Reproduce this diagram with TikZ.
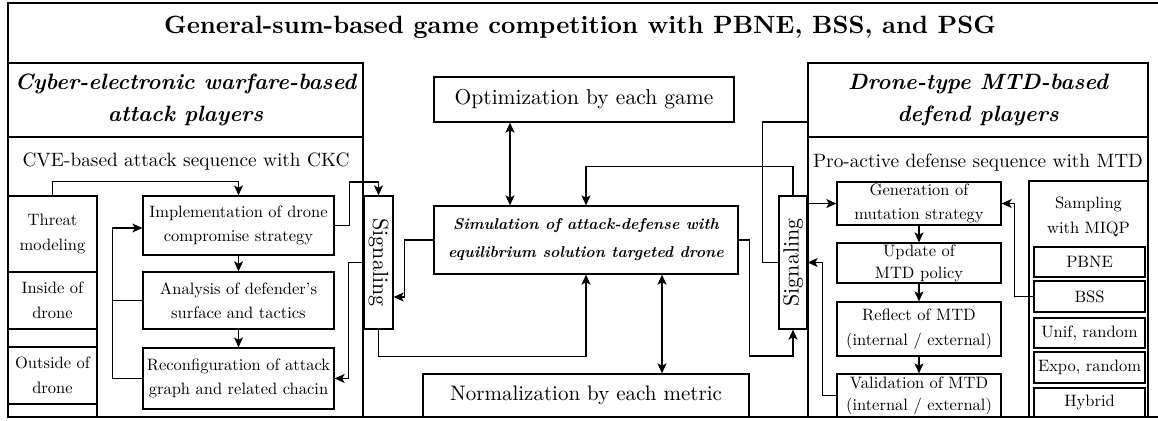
\documentclass[tikz,border=0pt]{standalone}
\usepackage{fontspec}
\setmainfont{lmroman10}[Extension=.otf, UprightFont=*-regular, BoldFont=*-bold,
  ItalicFont=*-italic, BoldItalicFont=*-bolditalic]
\usetikzlibrary{arrows.meta}
% font sizes used in the chart
\newcommand\ttlfont{\fontsize{25}{30}\selectfont\bfseries}
\newcommand\hdfont{\fontsize{22.2}{32}\selectfont\bfseries\itshape}
\newcommand\seqfont{\fontsize{19.3}{24}\selectfont}
\newcommand\optfont{\fontsize{21.5}{26}\selectfont}
\newcommand\normfont{\fontsize{21}{26}\selectfont}
\newcommand\simfont{\fontsize{15.7}{28}\selectfont\bfseries\itshape}
\newcommand\bxfont{\fontsize{16.5}{24.5}\selectfont}
\newcommand\tightfont{\fontsize{16.5}{22}\selectfont}
\newcommand\sigfont{\fontsize{22}{24}\selectfont}
\begin{document}
\begin{tikzpicture}[x=1pt,y=-1pt,
  box/.style={draw, line width=1.3pt, inner sep=0pt, align=center, font=\bxfont},
  link/.style={line width=1.2pt},
  arr/.style={line width=1.2pt, -{Stealth[length=10pt,width=9pt,inset=2.5pt]}},
  darr/.style={line width=1.2pt, {Stealth[length=10pt,width=9pt,inset=2.5pt]}-{Stealth[length=10pt,width=9pt,inset=2.5pt]}},
  frame/.style={line width=1.6pt}]
\useasboundingbox (0,0) rectangle (1158,420);

% outer frame
\draw[frame] (1158,3) -- (8,3) -- (8,417) -- (1158,417);
\node[font=\ttlfont] (title) at (580,27) {General-sum-based game competition with PBNE, BSS, and PSG};

% ---------- attacker side ----------
\node[box, minimum width=355pt, minimum height=354pt] (lpanel) at (185.5,240) {};
\node[box, font=\hdfont, minimum width=355pt, minimum height=74pt] (lhead) at (185.5,100)
  {Cyber-electronic warfare-based\\attack players};
\node[font=\seqfont] (lseq) at (186,162) {CVE-based attack sequence with CKC};

\node[box, minimum width=89pt, minimum height=76pt] (threat) at (52.5,234) {Threat\\modeling};
\node[box, minimum width=89pt, minimum height=57pt] (inside) at (52.5,300.5) {Inside of\\drone};
\node[box, minimum width=89pt, minimum height=18pt] (gapa) at (52.5,338) {};
\node[box, minimum width=89pt, minimum height=57pt] (outside) at (52.5,375.5) {Outside of\\drone};
\node[box, minimum width=89pt, minimum height=13pt] (gapb) at (52.5,410.5) {};

\node[box, minimum width=191pt, minimum height=59pt] (impl) at (238.5,225.5)
  {Implementation of drone\\compromise strategy};
\node[box, minimum width=191pt, minimum height=57pt] (anal) at (238.5,300.5)
  {Analysis of defender's\\surface and tactics};
\node[box, minimum width=191pt, minimum height=61pt] (reconf) at (238.5,378.5)
  {Reconfiguration of attack\\graph and related chacin};

\node[box, minimum width=29pt, minimum height=133pt] (lsig) at (378.5,262.5) {};
\node[font=\sigfont, rotate=-90] (lsigtext) at (lsig.center) {Signaling};

% ---------- game core ----------
\node[box, font=\optfont, minimum width=300pt, minimum height=45pt] (opt) at (584,99.5)
  {Optimization by each game};
\node[box, font=\simfont, minimum width=304pt, minimum height=68pt] (sim) at (586,240)
  {Simulation of attack-defense with\\equilibrium solution targeted drone};
\node[box, font=\normfont, minimum width=326pt, minimum height=43pt] (norm) at (586,395.5)
  {Normalization by each metric};

% ---------- defender side ----------
\node[box, minimum width=340pt, minimum height=354pt] (rpanel) at (978,240) {};
\node[box, font=\hdfont, minimum width=340pt, minimum height=74pt] (rhead) at (978,100)
  {Drone-type MTD-based\\defend players};
\node[font=\seqfont] (rseq) at (978,163) {Pro-active defense sequence with MTD};

\node[box, minimum width=28pt, minimum height=133pt] (rsig) at (793,262.5) {};
\node[font=\sigfont, rotate=90] (rsigtext) at (rsig.center) {Signaling};

\node[box, minimum width=164pt, minimum height=43pt] (gen) at (919,203.5)
  {Generation of\\mutation strategy};
\node[box, font=\tightfont, minimum width=164pt, minimum height=40pt] (upd) at (919,263)
  {Update of\\MTD policy};
\node[box, minimum width=164pt, minimum height=54pt] (refl) at (919,329)
  {Reflect of MTD\\(internal / external)};
\node[box, font=\tightfont, minimum width=164pt, minimum height=43pt] (valid) at (919,395.5)
  {Validation of MTD\\(internal / external)};

\node[box, minimum width=119pt, minimum height=236pt] (samp) at (1088.5,299) {};
\node[font=\bxfont, align=center] (samptext) at (1088.5,217) {Sampling\\with MIQP};
\node[box, minimum width=111pt, minimum height=30pt] (pbne) at (1089.5,262) {PBNE};
\node[box, minimum width=111pt, minimum height=31pt] (bss) at (1089.5,296.5) {BSS};
\node[box, minimum width=111pt, minimum height=30pt] (unif) at (1089.5,333) {Unif, random};
\node[box, minimum width=111pt, minimum height=31pt] (expo) at (1089.5,367.5) {Expo, random};
\node[box, minimum width=111pt, minimum height=29pt] (hybrid) at (1089.5,402.5) {Hybrid};

% ---------- attacker flow ----------
\draw[arr] (threat.north) -- ++(0,-14) -| (impl.north);
\draw[arr] (impl) -- (anal);
\draw[arr] (anal) -- (reconf);
\draw[link] (anal.west) -- ++(-30,0);
\draw[arr] (reconf.west) -- ++(-30,0) |- ([yshift=-2.5pt]impl.west);
\draw[arr] (impl.east) -| ++(15,-43.5) -| (lsig.north);
\draw[arr] (lsig.west) -- ++(-15,0) |- (reconf.east);
\draw[arr] (sim.west) -- ++(-29,0) |- ([yshift=-34.5pt]lsig.east);
\draw[arr] (lsig.south) -- ++(0,27) -| (sim.south);

% ---------- core links ----------
\draw[darr] ([xshift=-74pt]opt.south) -- ([xshift=-76pt]sim.north);
\draw[darr] ([xshift=76pt]sim.south) -- ([xshift=76pt]norm.north);

% ---------- defender flow ----------
\draw[arr] (rsig.north) -- ++(0,-29) -| (sim.north);
\draw[link] ([yshift=-22pt]rhead.west) -| ++(-45,140.5) -- (rsig.west);
\draw[arr] (sim.east) -- ++(11,0) -- ++(0,116) -| (rsig.south);
\draw[arr] (rsig.east |- gen.west) -- (gen.west);
\draw[arr] (gen) -- (upd);
\draw[arr] (upd) -- (refl);
\draw[arr] (refl) -- (valid);
\draw[arr] (valid.west) -- ++(-14,0) |- (rsig.east);
\draw[arr] (bss.west) -- ++(-19,0) |- (gen.east);
\end{tikzpicture}
\end{document}
